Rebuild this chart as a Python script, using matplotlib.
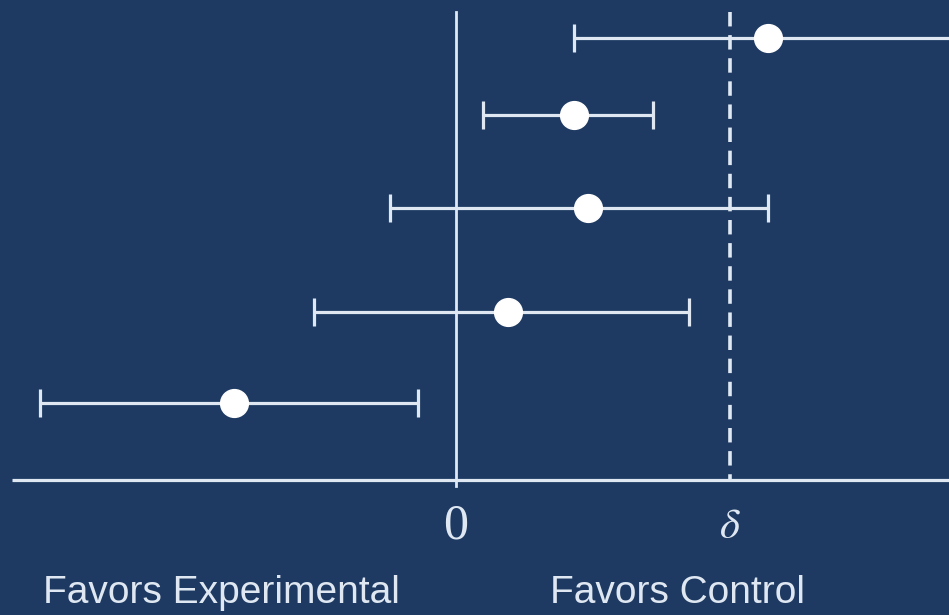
import matplotlib.pyplot as plt

# Non-inferiority forest plot: estimates and confidence intervals (units of delta)
lower = [0.43, 0.10, -0.24, -0.52, -1.52]
estimate = [1.14, 0.43, 0.48, 0.19, -0.81]
upper = [1.82, 0.72, 1.14, 0.85, -0.14]
delta = 1.0

# vertical placement of each interval (pixel rows, top to bottom)
row_y = [38, 115, 208, 312, 403]

bg = '#1e3a62'
fg = '#dfe8f2'

fig = plt.figure(figsize=(9.49, 6.15), dpi=100)
fig.patch.set_facecolor(bg)
ax = fig.add_axes([0, 0, 1, 1])
ax.set_facecolor(bg)
ax.set_xlim(-456 / 274, 493 / 274)
ax.set_ylim(615, 0)
ax.axis('off')

axis_y = 480
ax.plot([-444 / 274, 2.0], [axis_y, axis_y], color=fg, lw=2.3, solid_capstyle='butt')
ax.plot([0, 0], [12, axis_y + 6], color=fg, lw=2.0)
ax.plot([delta, delta], [12, axis_y], color=fg, lw=2.6, ls=(0, (4, 2.4)))

for lo, est, hi, y in zip(lower, estimate, upper, row_y):
    ax.errorbar(est, y, xerr=[[est - lo], [hi - est]], fmt='none',
                ecolor=fg, elinewidth=2.3, capsize=10, capthick=2.3)
    ax.plot(est, y, 'o', color='white', markersize=20, zorder=5)

ax.text(0, 526, '0', color=fg, fontsize=36, family='Liberation Serif',
        ha='center', va='center')
ax.text(delta, 526, r'$\delta$', color=fg, fontsize=31, ha='center', va='center',
        math_fontfamily='stix')
ax.text(-235 / 274, 593, 'Favors Experimental', color=fg, fontsize=28,
        family='Liberation Sans', ha='center', va='center')
ax.text(222 / 274, 593, 'Favors Control', color=fg, fontsize=28,
        family='Liberation Sans', ha='center', va='center')

fig.savefig('out.png', dpi=100, facecolor=bg)
